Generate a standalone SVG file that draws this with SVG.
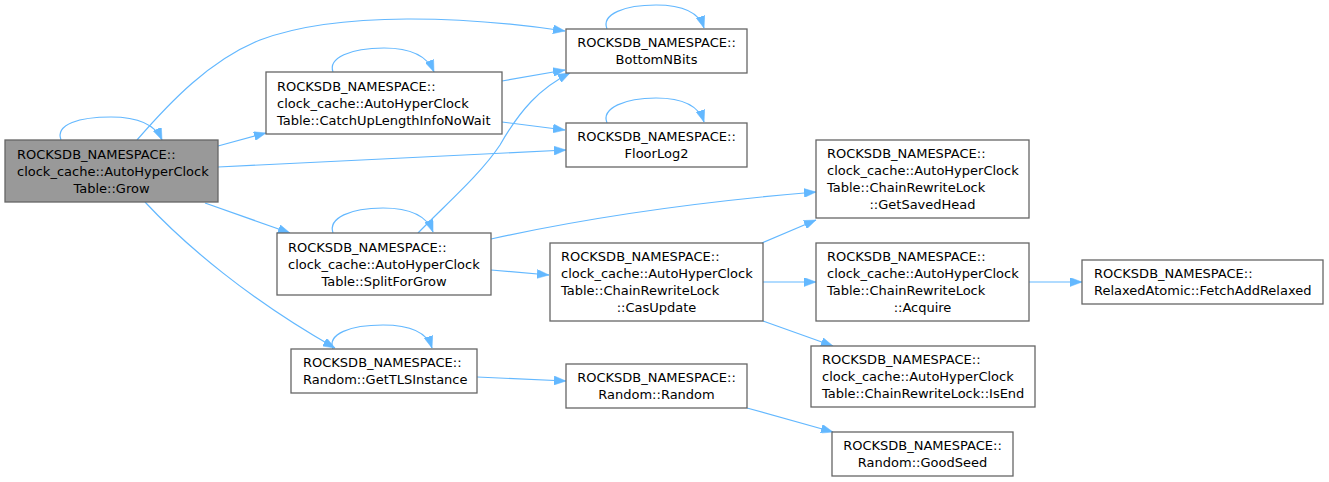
<svg xmlns="http://www.w3.org/2000/svg" width="1329" height="482" viewBox="0 0 1329 482">
<style>
.n rect{fill:#ffffff;stroke:#666666;stroke-width:1.3}
.n.root rect{fill:#999999}
.n text{font-family:"DejaVu Sans",sans-serif;font-size:13px;fill:#000000}
.m{text-anchor:middle}
#edges path{fill:none;stroke:#63b8ff;stroke-width:1.2;marker-end:url(#ah)}
</style>
<defs>
<marker id="ah" viewBox="0 0 12 9" refX="12" refY="4.5" markerWidth="12" markerHeight="9" markerUnits="userSpaceOnUse" orient="auto">
<path d="M0,0 L12,4.5 L0,9 z" fill="#63b8ff" stroke="#63b8ff" stroke-width="0.5"/>
</marker>
</defs>
<rect width="1329" height="482" fill="#ffffff"/>
<g id="edges">
<path d="M61,140 C55,124 80,117 111,117 C138,117 155,124 162,140"/>
<path d="M137,140 C170,102 210,60 260,40 C340,10 470,17 565,31"/>
<path d="M218,146 L266,133"/>
<path d="M218,167 L566,150"/>
<path d="M205,203 L290,233"/>
<path d="M145,202 C185,245 250,300 335,348"/>
<path d="M333,72 C328,58 350,48 384,48 C410,48 427,55 434,72"/>
<path d="M502,81 L565,70"/>
<path d="M502,122 L565,130"/>
<path d="M607,29 C601,14 625,5 656,5 C682,5 699,12 704,28"/>
<path d="M607,123 C601,108 625,98 656,98 C682,98 699,106 704,122"/>
<path d="M333,233 C328,218 350,208 383,208 C410,208 427,216 433,232"/>
<path d="M418,233 C445,205 480,175 500,145 C520,110 540,88 570,73"/>
<path d="M491,239 C600,215 720,200 816,192"/>
<path d="M491,270 L549,275"/>
<path d="M762,243 L816,220"/>
<path d="M763,282 L816,282"/>
<path d="M763,321 L833,346"/>
<path d="M1029,282 L1082,282"/>
<path d="M333,349 C327,334 350,325 383,325 C410,325 427,332 432,348"/>
<path d="M477,377 L566,381"/>
<path d="M747,408 L833,432"/>
</g>
<g id="grow" class="n root">
<rect x="5" y="140" width="213" height="62"/>
<text x="17" y="158.5">ROCKSDB_NAMESPACE::</text>
<text x="17" y="175.5">clock_cache::AutoHyperClock</text>
<text x="111.5" y="192.5" class="m">Table::Grow</text>
</g>
<g id="catchup" class="n">
<rect x="266" y="72" width="236" height="62"/>
<text x="277" y="90.5">ROCKSDB_NAMESPACE::</text>
<text x="277" y="107.5">clock_cache::AutoHyperClock</text>
<text x="277" y="124.5">Table::CatchUpLengthInfoNoWait</text>
</g>
<g id="bottomnbits" class="n">
<rect x="566" y="29" width="181" height="44"/>
<text x="656.5" y="47" class="m">ROCKSDB_NAMESPACE::</text>
<text x="656.5" y="64" class="m">BottomNBits</text>
</g>
<g id="floorlog2" class="n">
<rect x="566" y="123" width="181" height="44"/>
<text x="656.5" y="141" class="m">ROCKSDB_NAMESPACE::</text>
<text x="656.5" y="158" class="m">FloorLog2</text>
</g>
<g id="splitforgrow" class="n">
<rect x="277" y="233" width="214" height="62"/>
<text x="288" y="251.5">ROCKSDB_NAMESPACE::</text>
<text x="288" y="268.5">clock_cache::AutoHyperClock</text>
<text x="384" y="285.5" class="m">Table::SplitForGrow</text>
</g>
<g id="casupdate" class="n">
<rect x="550" y="243" width="213" height="78"/>
<text x="561" y="260.5">ROCKSDB_NAMESPACE::</text>
<text x="561" y="277.5">clock_cache::AutoHyperClock</text>
<text x="561" y="294.5">Table::ChainRewriteLock</text>
<text x="656.5" y="311.5" class="m">::CasUpdate</text>
</g>
<g id="getsavedhead" class="n">
<rect x="816" y="140" width="213" height="78"/>
<text x="827" y="157.5">ROCKSDB_NAMESPACE::</text>
<text x="827" y="174.5">clock_cache::AutoHyperClock</text>
<text x="827" y="191.5">Table::ChainRewriteLock</text>
<text x="922.5" y="208.5" class="m">::GetSavedHead</text>
</g>
<g id="acquire" class="n">
<rect x="816" y="243" width="213" height="78"/>
<text x="827" y="260.5">ROCKSDB_NAMESPACE::</text>
<text x="827" y="277.5">clock_cache::AutoHyperClock</text>
<text x="827" y="294.5">Table::ChainRewriteLock</text>
<text x="922.5" y="311.5" class="m">::Acquire</text>
</g>
<g id="isend" class="n">
<rect x="811" y="346" width="224" height="61"/>
<text x="822" y="364">ROCKSDB_NAMESPACE::</text>
<text x="822" y="381">clock_cache::AutoHyperClock</text>
<text x="822" y="398">Table::ChainRewriteLock::IsEnd</text>
</g>
<g id="fetchaddrelaxed" class="n">
<rect x="1082" y="260" width="241" height="44"/>
<text x="1094" y="278">ROCKSDB_NAMESPACE::</text>
<text x="1094" y="295">RelaxedAtomic::FetchAddRelaxed</text>
</g>
<g id="gettlsinstance" class="n">
<rect x="291" y="349" width="186" height="44"/>
<text x="303" y="367">ROCKSDB_NAMESPACE::</text>
<text x="303" y="384">Random::GetTLSInstance</text>
</g>
<g id="random" class="n">
<rect x="566" y="364" width="181" height="44"/>
<text x="656.5" y="382" class="m">ROCKSDB_NAMESPACE::</text>
<text x="656.5" y="399" class="m">Random::Random</text>
</g>
<g id="goodseed" class="n">
<rect x="832" y="432" width="181" height="44"/>
<text x="922.5" y="450" class="m">ROCKSDB_NAMESPACE::</text>
<text x="922.5" y="467" class="m">Random::GoodSeed</text>
</g>
</svg>
